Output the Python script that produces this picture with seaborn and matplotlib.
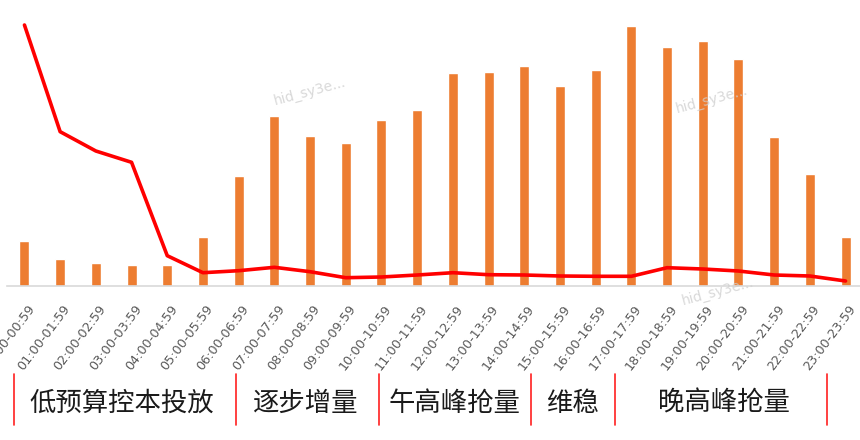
import numpy as np
import pandas as pd
import matplotlib
matplotlib.use("Agg")
import matplotlib.pyplot as plt
import matplotlib.transforms as mtransforms
import seaborn as sns

# ---- data ----
hours = [f"{h:02d}:00-{h:02d}:59" for h in range(24)]
spend = [45.3, 26.7, 23.0, 20.7, 20.7, 49.0, 110.3, 169.7, 150.0, 143.0, 166.3, 175.7,
         212.7, 213.7, 220.3, 200.0, 216.0, 259.7, 239.3, 244.7, 227.3, 149.0, 112.0, 48.7]
cost = [261.0, 154.3, 135.0, 123.7, 30.3, 13.3, 15.3, 18.7, 14.3, 8.3, 9.0, 11.0,
        13.3, 11.3, 11.0, 10.0, 9.7, 9.7, 18.3, 17.0, 15.0, 11.0, 10.0, 5.0]
phases = ["低预算控本投放", "逐步增量", "午高峰抢量", "维稳", "晚高峰抢量"]

df = pd.DataFrame({"hour": hours, "spend": spend, "cost": cost})

# ---- layout helpers ----
phase_x = [2.73, 7.86, 12.06, 15.34, 19.59]
sep_x = [-0.29, 5.92, 9.93, 14.2, 16.54, 22.48]

sns.set_style("white")
plt.rcParams["font.family"] = ["Noto Sans CJK SC", "DejaVu Sans"]

fig = plt.figure(figsize=(8.6, 4.4), dpi=100)
ax = fig.add_axes([6.6 / 860, 154 / 440, 856.8 / 860, 286 / 440])

sns.barplot(data=df, x="hour", y="spend", color="#ED7D31", width=0.28,
            saturation=1, ax=ax)
sns.lineplot(x=np.arange(len(cost)), y=df["cost"], color="#FF0000", lw=2.6, ax=ax)

ax.set_xlim(-0.5, 23.5)
ax.set_ylim(0, 286)
ax.set_xlabel("")
ax.set_ylabel("")
ax.set_yticks([])
for s in ["top", "right", "left"]:
    ax.spines[s].set_visible(False)
ax.spines["bottom"].set_color("#d9d9d9")
ax.spines["bottom"].set_linewidth(1.2)

# boundary ticks
ax.set_xticks(np.arange(-0.5, 24, 1), minor=True)
ax.tick_params(axis="x", which="minor", length=6, color="#d9d9d9", width=1)
ax.tick_params(axis="x", which="major", length=0, pad=12)
ax.set_xticks(np.arange(24))
ax.set_xticklabels(hours, rotation=53, ha="right", rotation_mode="anchor",
                   fontsize=9.2, color="#595959", family=["DejaVu Sans"])
for lab in ax.get_xticklabels():
    lab.set_transform(lab.get_transform() + mtransforms.ScaledTranslation(2.5 / 100, 0, fig.dpi_scale_trans))

# phase annotations below the axis
trans = mtransforms.blended_transform_factory(ax.transData, fig.transFigure)
for x in sep_x:
    ax.plot([x, x], [1 - 374 / 440, 1 - 425 / 440], transform=trans, color="#FF2020",
            lw=1.2, clip_on=False)
for x, name in zip(phase_x, phases):
    ax.text(x, 1 - 403 / 440, name, transform=trans, ha="center", va="center",
            fontsize=19, color="#1a1a1a")

# faint watermarks
for wx, wy in [(310, 92), (712, 100), (718, 292)]:
    fig.text(wx / 860, 1 - wy / 440, "hid_sy3e...", rotation=15, fontsize=10,
             color="#cfcfcf", alpha=0.8, ha="center", va="center",
             family=["DejaVu Sans"])

fig.savefig("out.png", dpi=100)
